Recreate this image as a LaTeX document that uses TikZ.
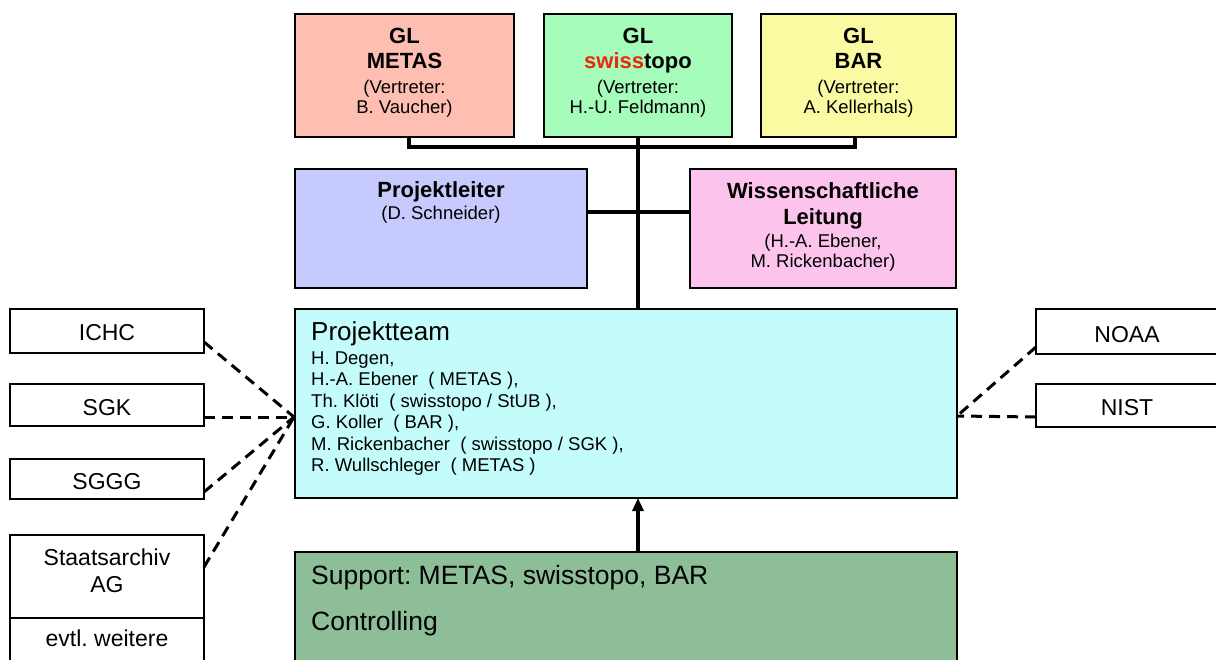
\documentclass[tikz,border=0pt]{standalone}
\usepackage{fontspec}
\setmainfont{Liberation Sans}
\usetikzlibrary{arrows.meta}
\frenchspacing
\definecolor{cMetas}{RGB}{255,190,178}
\definecolor{cSwiss}{RGB}{166,252,186}
\definecolor{cBar}{RGB}{250,250,162}
\definecolor{cPl}{RGB}{198,202,252}
\definecolor{cWl}{RGB}{252,196,236}
\definecolor{cPt}{RGB}{196,252,252}
\definecolor{cSup}{RGB}{142,190,152}
\definecolor{swissred}{RGB}{235,40,15}
\tikzset{
  box/.style={draw=black, line width=2pt, inner sep=0pt, outer sep=0pt},
  t/.style={anchor=base, inner sep=0pt, font=\fontsize{18.5}{22}\selectfont},
  tl/.style={t, anchor=base west},
  tb/.style={anchor=base, inner sep=0pt, font=\fontsize{22}{26}\selectfont\bfseries},
  tm/.style={anchor=base, inner sep=0pt, font=\fontsize{23}{27}\selectfont},
  conn/.style={line width=3.6pt, draw=black},
  dsh/.style={line width=3pt, draw=black, dash pattern=on 11pt off 7pt},
}
\begin{document}
\begin{tikzpicture}[x=1pt,y=-1pt]
\useasboundingbox (0,0) rectangle (1216,659);
% boxes
\node[box, fill=cMetas, minimum width=219pt, minimum height=123pt] (metas) at (404.5,75.5) {};
\node[box, fill=cSwiss, minimum width=188pt, minimum height=123pt] (swiss) at (638,75.5) {};
\node[box, fill=cBar, minimum width=195pt, minimum height=123pt] (bar) at (858.5,75.5) {};
\node[box, fill=cPl, minimum width=292pt, minimum height=119pt] (pl) at (441,228.5) {};
\node[box, fill=cWl, minimum width=266pt, minimum height=119pt] (wl) at (823,228.5) {};
\node[box, fill=cPt, minimum width=662pt, minimum height=189pt] (pt) at (626,403.5) {};
\node[box, fill=cSup, minimum width=662pt, minimum height=118pt] (sup) at (626,611) {};
\node[box, fill=white, minimum width=194pt, minimum height=44pt] (ichc) at (107,331) {};
\node[box, fill=white, minimum width=194pt, minimum height=42pt] (sgk) at (107,405) {};
\node[box, fill=white, minimum width=194pt, minimum height=40pt] (sggg) at (107,479) {};
\node[box, fill=white, minimum width=194pt, minimum height=83pt] (staat) at (107,576.5) {};
\node[box, fill=white, minimum width=194pt, minimum height=52pt] (evtl) at (107,644) {};
\node[box, fill=white, minimum width=184pt, minimum height=45pt] (noaa) at (1128,331.5) {};
\node[box, fill=white, minimum width=184pt, minimum height=43pt] (nist) at (1128,405.5) {};

% texts top
\node[tb] (metasA) at (404.5,43) {GL};
\node[tb] (metasB) at (404.5,68) {METAS};
\node[t] (metasC) at (404.5,93) {(Vertreter:};
\node[t] (metasD) at (404.5,113) {B. Vaucher)};
\node[tb] (swissA) at (638,43) {GL};
\node[tb] (swissB) at (638,68) {\textcolor{swissred}{swiss}topo};
\node[t] (swissC) at (638,93) {(Vertreter:};
\node[t] (swissD) at (638,113) {H.-U. Feldmann)};
\node[tb] (barA) at (858.5,43) {GL};
\node[tb] (barB) at (858.5,68) {BAR};
\node[t] (barC) at (858.5,93) {(Vertreter:};
\node[t] (barD) at (858.5,113) {A. Kellerhals)};
% middle
\node[tb] (plA) at (441,197) {Projektleiter};
\node[t] (plB) at (441,219) {(D. Schneider)};
\node[tb] (wlA) at (823,198) {Wissenschaftliche};
\node[tb] (wlB) at (823,224) {Leitung};
\node[t] (wlC) at (823,247) {(H.-A. Ebener,};
\node[t] (wlD) at (823,267) {M. Rickenbacher)};
% Projektteam
\node[anchor=base west, inner sep=0pt, font=\fontsize{26}{30}\selectfont] (ptA) at (311,340) {Projektteam};
\node[tl] (pt1) at (311,364) {H. Degen,};
\node[tl] (pt2) at (311,385.5) {H.-A. Ebener\ \ ( METAS ),};
\node[tl] (pt3) at (311,407) {Th. Kl\"oti\ \ ( swisstopo / StUB ),};
\node[tl] (pt4) at (311,428.5) {G. Koller\ \ ( BAR ),};
\node[tl] (pt5) at (311,450) {M. Rickenbacher\ \ ( swisstopo / SGK ),};
\node[tl] (pt6) at (311,471.5) {R. Wullschleger\ \ ( METAS )};
% Support
\node[anchor=base west, inner sep=0pt, font=\fontsize{26.5}{30}\selectfont] (supA) at (311,584) {Support: METAS, swisstopo, BAR};
\node[anchor=base west, inner sep=0pt, font=\fontsize{26.5}{30}\selectfont] (supB) at (311,630) {Controlling};
% side labels
\node[tm] (ichcT) at (107,340) {ICHC};
\node[tm] (sgkT) at (107,415) {SGK};
\node[tm] (sgggT) at (107,489) {SGGG};
\node[tm] (staatA) at (107,565) {Staatsarchiv};
\node[tm] (staatB) at (107,592) {AG};
\node[tm] (evtlT) at (107,646) {evtl. weitere};
\node[tm] (noaaT) at (1127,342) {NOAA};
\node[tm] (nistT) at (1127,415) {NIST};

% solid connectors
\coordinate (hy) at (0,147);
\coordinate (my) at (0,212);
\draw[conn] ([xshift=4.5pt]metas.south) -- ([xshift=4.5pt]metas.south |- hy) -- ([xshift=-3.5pt]bar.south |- hy) -- ([xshift=-3.5pt]bar.south);
\draw[conn] (swiss.south) -- (swiss.south |- pt.north);
\draw[conn] (pl.east |- my) -- (wl.west |- my);
\draw[conn, -{Triangle[length=13pt,width=11pt]}] (swiss.south |- sup.north) -- (swiss.south |- pt.south);

% dashed connectors
\coordinate (lh) at (294,417);
\coordinate (rh) at (957,416);
\draw[dsh] ([yshift=-11pt]ichc.east) -- (lh);
\draw[dsh] ([yshift=-12pt]sgk.east) -- (lh);
\draw[dsh] ([yshift=-13pt]sggg.east) -- (lh);
\draw[dsh] ([yshift=9.5pt]staat.east) -- (lh);
\draw[dsh] ([yshift=-15.5pt]noaa.west) -- (rh);
\draw[dsh] ([yshift=-11.5pt]nist.west) -- (rh);
\end{tikzpicture}
\end{document}
